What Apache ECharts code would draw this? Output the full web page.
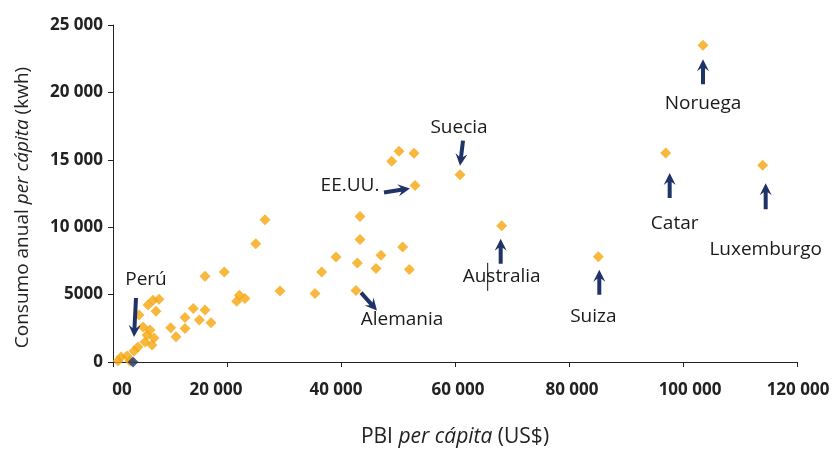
<!DOCTYPE html>
<html>
<head>
<meta charset="utf-8">
<script src="https://cdn.jsdelivr.net/npm/echarts@6/dist/echarts.min.js"></script>
<style>
  html, body { margin: 0; padding: 0; background: #fff; }
  #chart { width: 834px; height: 458px; }
</style>
</head>
<body>
<div id="chart"></div>
<script>
// países sin etiqueta: PBI per cápita (US$) y consumo anual per cápita (kwh)
const pbi = [880, 1400, 2460, 2980, 3680, 4390, 5610, 6840, 5960, 7190, 5260, 6490, 4560, 7020, 8070, 7540, 6140,
  26670, 25040, 16140, 19530, 29300, 22160, 23160, 21700, 14090, 16140, 12630, 15140, 17190, 10120, 12630, 11050,
  48890, 50180, 52810, 43330, 43330, 50820, 39120, 47020, 42860, 46140, 36610, 51980, 35440];
const consumo = [100, 370, 440, 70, 810, 1110, 1480, 1260, 2000, 1780, 2590, 2370, 3480, 4590, 4660, 3770, 4220,
  10550, 8780, 6360, 6680, 5270, 4960, 4710, 4510, 3970, 3850, 3310, 3110, 2910, 2540, 2490, 1870,
  14890, 15630, 15480, 10800, 9080, 8530, 7790, 7910, 7340, 6930, 6680, 6860, 5080];

// países señalados con flecha
const paises = ['Perú', 'Alemania', 'EE.UU.', 'Suecia', 'Australia', 'Suiza', 'Catar', 'Noruega', 'Luxemburgo'];
const paisesPbi = [3510, 42630, 52980, 60880, 68190, 85140, 96960, 103510, 113980];
const paisesConsumo = [0, 5300, 13100, 13900, 10100, 7800, 15500, 23500, 14600];

// etiquetas de los ejes
const ticksX = ['00', '20 000', '40 000', '60 000', '80 000', '100 000', '120 000'];
const ticksY = ['0', '5000', '10 000', '15 000', '20 000', '25 000'];

const FONT = '"Open Sans", "DejaVu Sans", sans-serif';
const NARANJA = '#f6a50c';
const AZUL = '#1f3366';

// corrimiento horizontal de cada etiqueta del eje x (px)
const corrX = [9, -11, -5, 3, 3, 7, 1];

// flecha y texto de cada país (pixeles relativos al punto)
const notas = {
  'Perú':       { cola: [3, -64], punta: [1, -25], texto: [13, -82] },
  'Alemania':   { cola: [5, 2], punta: [21, 20], texto: [46, 29] },
  'EE.UU.':     { cola: [-31, 7], punta: [-5, 3], texto: [-65, 0] },
  'Suecia':     { cola: [3, -34], punta: [0, -9], texto: [-1, -47] },
  'Australia':  { cola: [-1, 38], punta: [-1, 13], texto: [0, 51], cursor: true },
  'Suiza':      { cola: [1, 38], punta: [1, 13], texto: [-5, 60] },
  'Catar':      { cola: [4, 45], punta: [4, 20], texto: [9, 71] },
  'Noruega':    { cola: [0, 39], punta: [0, 14], texto: [0, 58] },
  'Luxemburgo': { cola: [3, 44], punta: [3, 18], texto: [3, 84] }
};

function flecha(t, h) {
  let dx = h[0] - t[0], dy = h[1] - t[1];
  let L = Math.sqrt(dx * dx + dy * dy);
  let ux = dx / L, uy = dy / L, nx = -uy, ny = ux;
  let headL = 12, hw = 6, sw = 2;
  let b = [h[0] - ux * headL, h[1] - uy * headL];
  let j = [b[0] + ux * 3, b[1] + uy * 3];
  return [
    [t[0] + nx * sw, t[1] + ny * sw],
    [j[0] + nx * sw, j[1] + ny * sw],
    [b[0] + nx * hw, b[1] + ny * hw],
    h,
    [b[0] - nx * hw, b[1] - ny * hw],
    [j[0] - nx * sw, j[1] - ny * sw],
    [t[0] - nx * sw, t[1] - ny * sw]
  ];
}

let puntos = [];
for (let i = 0; i < pbi.length; i++) {
  puntos.push([pbi[i], consumo[i]]);
}
let puntosPais = [];
let puntoPeru = [];
for (let i = 0; i < paises.length; i++) {
  if (paises[i] === 'Perú') {
    puntoPeru.push([paisesPbi[i], paisesConsumo[i]]);
  } else {
    puntosPais.push([paisesPbi[i], paisesConsumo[i]]);
  }
}
let datosNotas = paises.map((p, i) => [paisesPbi[i], paisesConsumo[i], i]);

let richX = {};
corrX.forEach((c, i) => {
  richX['t' + i] = {
    fontFamily: FONT, fontSize: 17, fontWeight: 'bold', color: '#222',
    padding: c > 0 ? [0, 0, 0, 2 * c] : [0, -2 * c, 0, 0]
  };
});

let chart = echarts.init(document.getElementById('chart'));
chart.setOption({
  animation: false,
  backgroundColor: '#fff',
  grid: { left: 113, right: 37, top: 25, bottom: 96, outerBoundsMode: 'none' },
  xAxis: {
    type: 'value',
    min: 0,
    max: 120000,
    interval: 20000,
    name: 'PBI {i|per cápita} (US$)',
    nameLocation: 'middle',
    nameGap: 65,
    nameTextStyle: {
      fontFamily: FONT, fontSize: 21, color: '#222',
      rich: { i: { fontFamily: FONT, fontSize: 21, color: '#222', fontStyle: 'italic' } }
    },
    splitLine: { show: false },
    axisLine: { lineStyle: { color: '#222', width: 1 } },
    axisTick: { length: 5, lineStyle: { color: '#222' } },
    axisLabel: {
      margin: 20,
      fontFamily: FONT, fontSize: 17, fontWeight: 'bold', color: '#222',
      formatter: v => {
        let i = Math.round(v / 20000);
        return '{t' + i + '|' + ticksX[i] + '}';
      },
      rich: richX
    }
  },
  yAxis: {
    type: 'value',
    min: 0,
    max: 25000,
    interval: 5000,
    name: 'Consumo anual {i|per cápita} (kwh)',
    nameLocation: 'middle',
    nameGap: 81,
    nameTextStyle: {
      fontFamily: FONT, fontSize: 19, color: '#222', padding: [0, 0, 0, -28],
      rich: { i: { fontFamily: FONT, fontSize: 19, color: '#222', fontStyle: 'italic' } }
    },
    splitLine: { show: false },
    axisLine: { show: true, lineStyle: { color: '#222', width: 1 } },
    axisTick: { show: true, length: 5, lineStyle: { color: '#222' } },
    axisLabel: {
      margin: 10,
      fontFamily: FONT, fontSize: 17, fontWeight: 'bold', color: '#222',
      formatter: v => ticksY[Math.round(v / 5000)]
    }
  },
  series: [
    {
      type: 'scatter',
      symbol: 'diamond',
      symbolSize: 11,
      itemStyle: { color: NARANJA },
      data: puntos
    },
    {
      type: 'scatter',
      symbol: 'diamond',
      symbolSize: 11,
      itemStyle: { color: NARANJA },
      data: puntosPais
    },
    {
      type: 'scatter',
      symbol: 'diamond',
      symbolSize: 11,
      itemStyle: { color: AZUL },
      data: puntoPeru
    },
    {
      type: 'custom',
      clip: false,
      z: 10,
      data: datosNotas,
      renderItem: function (params, api) {
        let p = api.coord([api.value(0), api.value(1)]);
        let nombre = paises[api.value(2)];
        let n = notas[nombre];
        let t = [p[0] + n.cola[0], p[1] + n.cola[1]];
        let h = [p[0] + n.punta[0], p[1] + n.punta[1]];
        let hijos = [
          {
            type: 'polygon',
            shape: { points: flecha(t, h) },
            style: { fill: AZUL }
          },
          {
            type: 'text',
            x: p[0] + n.texto[0],
            y: p[1] + n.texto[1],
            style: {
              text: nombre,
              align: 'center',
              verticalAlign: 'middle',
              fill: '#1a1a1a',
              fontFamily: FONT,
              fontSize: 19
            }
          }
        ];
        if (n.cursor) {
          hijos.push({
            type: 'line',
            shape: { x1: p[0] - 14, y1: p[1] + 37, x2: p[0] - 14, y2: p[1] + 65 },
            style: { stroke: '#111', lineWidth: 1 }
          });
        }
        return { type: 'group', children: hijos };
      }
    }
  ]
});
</script>
</body>
</html>
